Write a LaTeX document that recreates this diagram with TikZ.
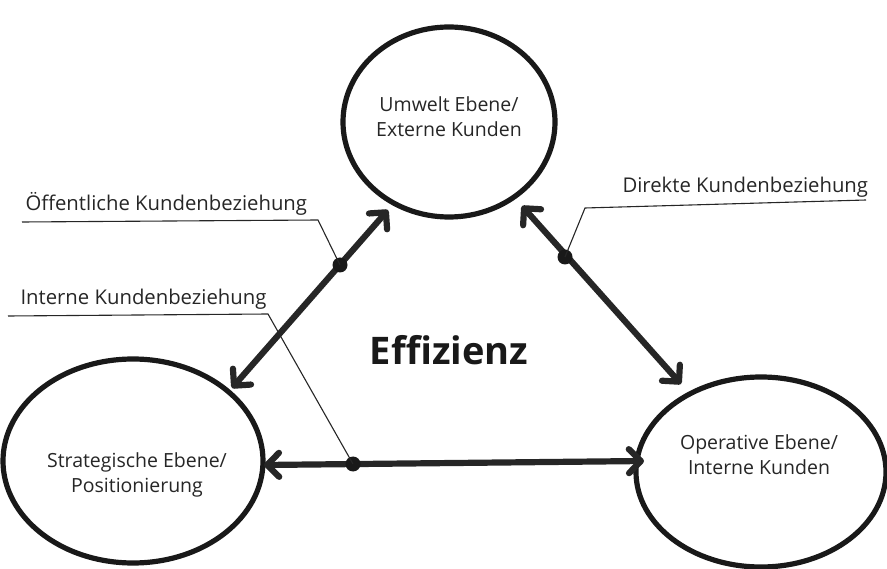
\documentclass[tikz,border=0pt]{standalone}
\usepackage{fontspec}
\setmainfont{Open Sans}
\usetikzlibrary{arrows.meta,shapes.geometric}
\begin{document}
\begin{tikzpicture}[x=1pt,y=-1pt,
  level/.style={draw=black!90,line width=5.2pt,ellipse,inner sep=0pt},
  leveltext/.style={font=\fontsize{19.5}{25}\selectfont,align=center,text=black!85},
  barb/.tip={Straight Barb[length=12pt,width=24pt,round]},
  relation/.style={draw=black!85,line width=6.2pt,line cap=round,barb-barb},
  joint/.style={circle,fill=black!90,minimum size=15pt,inner sep=0pt},
  leader/.style={draw=black!85,line width=1.1pt},
  caption/.style={font=\fontsize{20.3}{24}\selectfont,text=black!85,anchor=base west}]
\useasboundingbox (0,0) rectangle (887,569);
% the three levels
\node[level,minimum width=212pt,minimum height=190pt] (U) at (449,122) {};
\node[level,minimum width=260pt,minimum height=204pt] (S) at (133,461) {};
\node[level,minimum width=250pt,minimum height=190pt] (O) at (761,472) {};
\node[leveltext] at (449,117) {Umwelt Ebene/\\Externe Kunden};
\node[leveltext] at (137,475) {Strategische Ebene/\\Positionierung};
\node[leveltext] at (759,455) {Operative Ebene/\\Interne Kunden};
% centre title
\node[font=\fontsize{38}{40}\selectfont\bfseries,text=black!90] (E) at (449,350) {Effizienz};
% relation arrows between the levels
\coordinate (su1) at (232,388);
\coordinate (su2) at (388,210);
\coordinate (uo1) at (522,206);
\coordinate (uo2) at (681,384);
\coordinate (so1) at (264,465);
\coordinate (so2) at (644,461);
\draw[relation] (su1) -- (su2);
\draw[relation] (uo1) -- (uo2);
\draw[relation] (so1) -- (so2);
\node[joint] (d1) at (340,265) {};
\node[joint] (d2) at (565,257) {};
\node[joint] (d3) at (353,464) {};
% labels with leader lines
\node[caption] (t1) at (22,211) {Öffentliche Kundenbeziehung};
\coordinate (l1a) at (22,222);
\coordinate (l1b) at (318,220);
\draw[leader] (l1a) -- (l1b) -- (d1.center);
\node[caption] (t3) at (17,305) {Interne Kundenbeziehung};
\coordinate (l3a) at (8,316);
\coordinate (l3b) at (268,314);
\draw[leader] (l3a) -- (l3b) -- (d3.center);
\node[caption] (t2) at (619,193) {Direkte Kundenbeziehung};
\coordinate (l2a) at (866,200);
\coordinate (l2b) at (585,208);
\draw[leader] (l2a) -- (l2b) -- (d2.center);
\end{tikzpicture}
\end{document}
